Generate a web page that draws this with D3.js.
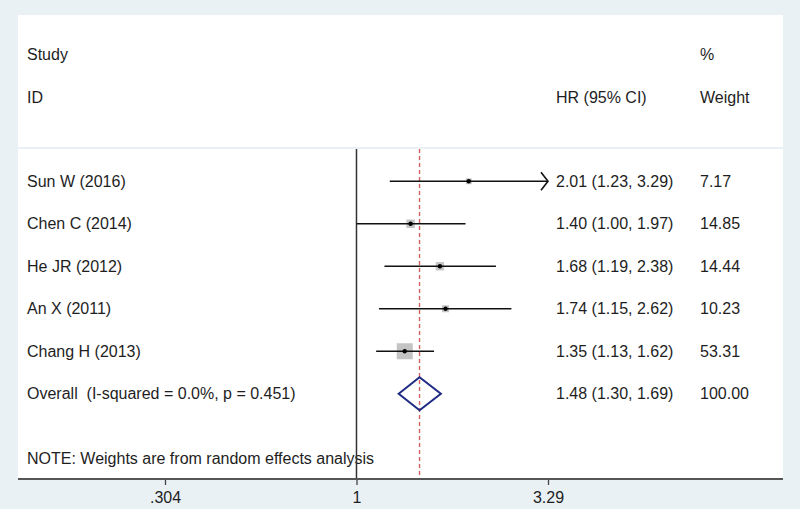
<!DOCTYPE html>
<html>
<head>
<meta charset="utf-8">
<script src="https://cdn.jsdelivr.net/npm/d3@7"></script>
<style>
body { margin: 0; background: #e9f1f5; }
text { font-family: "Liberation Sans", Arial, sans-serif; font-size: 16px; fill: #1e1e1e; white-space: pre; }
</style>
</head>
<body>
<script>
let width = 800
let height = 509

// data
let studies = ["Sun W (2016)", "Chen C (2014)", "He JR (2012)", "An X (2011)", "Chang H (2013)"]
let hr = [2.01, 1.40, 1.68, 1.74, 1.35]
let lower = [1.23, 1.00, 1.19, 1.15, 1.13]
let upper = [3.29, 1.97, 2.38, 2.62, 1.62]
let weights = [7.17, 14.85, 14.44, 10.23, 53.31]
let overall = {label: "Overall  (I-squared = 0.0%, p = 0.451)", hr: 1.48, lo: 1.30, hi: 1.69, weight: 100.00}
let tickValues = [0.304, 1, 3.29]
let tickLabels = [".304", "1", "3.29"]

let fmt = d3.format(".2f")

let svg = d3.select("body")
.append("svg")
.attr("width", width)
.attr("height", height)
.style("display", "block")
.style("background", "#e9f1f5")

let left = 18, right = 783
let plotTop = 149, plotBottom = 479

// white panels
svg.append("rect")
	.attr("x", left).attr("y", 15)
	.attr("width", right - left).attr("height", 132)
	.style("fill", "#fff")
svg.append("rect")
	.attr("x", left).attr("y", plotTop)
	.attr("width", right - left).attr("height", plotBottom - plotTop)
	.style("fill", "#fff")

//scales
let x = d3.scaleLog()
.domain([tickValues[0], tickValues[2]])
.range([165, 548])

let y = d3.scaleBand()
.domain(d3.range(studies.length + 1))
.range([160, 415])

let size = d3.scaleSqrt()
.domain([0, d3.max(weights)])
.range([0, 16])

let rowY = i => y(i) + y.bandwidth() / 2

// header
let header = svg.append("g")
header.append("text").attr("x", 27).attr("y", 54).attr("dy", "0.35em").text("Study")
header.append("text").attr("x", 27).attr("y", 97).attr("dy", "0.35em").text("ID")
header.append("text").attr("x", 556).attr("y", 97).attr("dy", "0.35em").text("HR (95% CI)")
header.append("text").attr("x", 700).attr("y", 54).attr("dy", "0.35em").text("%")
header.append("text").attr("x", 700).attr("y", 97).attr("dy", "0.35em").text("Weight")

// note (lines drawn after so they pass over it)
svg.append("text")
	.attr("x", 27).attr("y", 458).attr("dy", "0.35em")
	.text("NOTE: Weights are from random effects analysis")

// null line
svg.append("line")
	.attr("x1", x(1)).attr("x2", x(1))
	.attr("y1", plotTop).attr("y2", plotBottom)
	.style("stroke", "#333")
	.style("stroke-width", 1.5)

// overall line
svg.append("line")
	.attr("x1", x(overall.hr)).attr("x2", x(overall.hr))
	.attr("y1", plotTop).attr("y2", plotBottom)
	.style("stroke", "#d4615e")
	.style("stroke-width", 1.4)
	.style("stroke-dasharray", "4,3")

let rows = studies.map((s, i) => ({name: s, hr: hr[i], lo: lower[i], hi: upper[i], w: weights[i], i: i}))
let xMax = tickValues[2]

let g = svg.selectAll(".study")
	.data(rows)
	.enter()
	.append("g")
	.attr("class", "study")

g.append("rect")
	.attr("x", d => x(d.hr) - size(d.w) / 2)
	.attr("y", d => rowY(d.i) - size(d.w) / 2)
	.attr("width", d => size(d.w))
	.attr("height", d => size(d.w))
	.style("fill", "#c4c4c4")

g.append("line")
	.attr("x1", d => x(d.lo))
	.attr("x2", d => x(Math.min(d.hi, xMax)))
	.attr("y1", d => rowY(d.i))
	.attr("y2", d => rowY(d.i))
	.style("stroke", "#111")
	.style("stroke-width", 1.5)

// arrow when CI runs to axis edge
g.filter(d => d.hi >= xMax)
	.append("path")
	.attr("d", d => {
		let ax = x(xMax), ay = rowY(d.i)
		return "M" + (ax - 7) + "," + (ay - 9) + "L" + ax + "," + ay + "L" + (ax - 7) + "," + (ay + 9)
	})
	.style("fill", "none")
	.style("stroke", "#111")
	.style("stroke-width", 1.6)

g.append("circle")
	.attr("cx", d => x(d.hr))
	.attr("cy", d => rowY(d.i))
	.attr("r", 2.2)
	.style("fill", "#000")

g.append("text")
	.attr("x", 27)
	.attr("y", d => rowY(d.i))
	.attr("dy", "0.35em")
	.text(d => d.name)

g.append("text")
	.attr("x", 556)
	.attr("y", d => rowY(d.i))
	.attr("dy", "0.35em")
	.text(d => fmt(d.hr) + " (" + fmt(d.lo) + ", " + fmt(d.hi) + ")")

g.append("text")
	.attr("x", 700)
	.attr("y", d => rowY(d.i))
	.attr("dy", "0.35em")
	.text(d => fmt(d.w))

// overall diamond
let oy = rowY(studies.length)
svg.append("path")
	.attr("d", "M" + x(overall.lo) + "," + oy +
		"L" + x(overall.hr) + "," + (oy - 16.5) +
		"L" + x(overall.hi) + "," + oy +
		"L" + x(overall.hr) + "," + (oy + 16.5) + "Z")
	.style("fill", "none")
	.style("stroke", "#1f2b84")
	.style("stroke-width", 2)

svg.append("text").attr("x", 27).attr("y", oy).attr("dy", "0.35em").text(overall.label)
svg.append("text").attr("x", 556).attr("y", oy).attr("dy", "0.35em")
	.text(fmt(overall.hr) + " (" + fmt(overall.lo) + ", " + fmt(overall.hi) + ")")
svg.append("text").attr("x", 700).attr("y", oy).attr("dy", "0.35em").text(fmt(overall.weight))

// axis
let xAxis = d3.axisBottom(x)
	.tickValues(tickValues)
	.tickFormat((d, i) => tickLabels[i])
	.tickSizeOuter(0)
	.tickSize(6)
	.tickPadding(7)

let axisG = svg.append("g")
	.attr("transform", "translate(0," + plotBottom + ")")
	.call(xAxis)
axisG.select(".domain").remove()
axisG.selectAll(".tick line").style("stroke", "#444").style("stroke-width", 1.3)
axisG.selectAll(".tick text")
	.style("font-family", "Liberation Sans, Arial, sans-serif")
	.style("font-size", "16px")
	.style("fill", "#1e1e1e")
axisG.append("line")
	.attr("x1", left).attr("x2", right)
	.style("stroke", "#555")
	.style("stroke-width", 2)
</script>
</body>
</html>
